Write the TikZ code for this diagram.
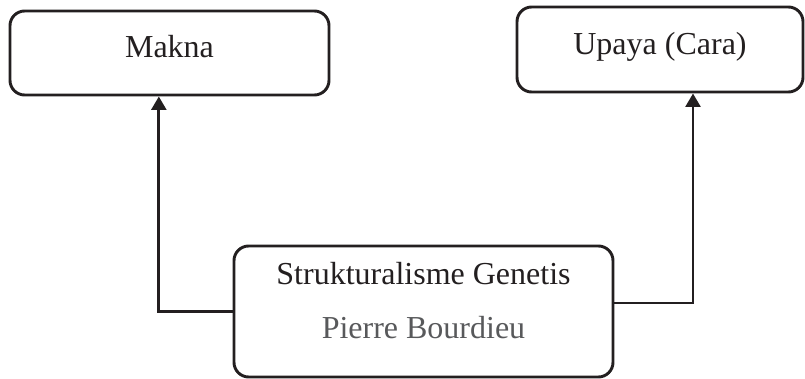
\documentclass[tikz,border=0pt]{standalone}
\usepackage{fontspec}
\setmainfont{Liberation Serif}
\usetikzlibrary{arrows.meta, positioning}
\definecolor{inkdark}{HTML}{231F20}
\definecolor{inkgrey}{HTML}{58595B}

\begin{document}
\begin{tikzpicture}[
        x=0.75pt, y=-0.75pt,
        font=\fontsize{24}{29}\selectfont,
        text=inkdark,
        >={Triangle[length=10pt,width=11pt]},
        % Styles
        box/.style={% For the rounded boxes
            rectangle,
            rounded corners=11pt,
            draw=inkdark,
            line width=2.2pt,
            inner sep=0pt,
            },
        single/.style={% One line of text in a box
            text height=16pt,
            text depth=9pt,
            },
        link/.style={% Connectors from the bottom box
            draw=inkdark,
            line width=2.2pt,
            },
        ]
    \useasboundingbox (0,0) rectangle (805,378);

    % Nodes
        % Top boxes
        \node [box, single, minimum width=239.25pt, minimum height=63pt] (makna) at (169.5,53) {Makna};
        \node [box, single, minimum width=214.5pt, minimum height=63.75pt] (upaya) at (660,49.5) {Upaya (Cara)};

        % Bottom box
        \node [box, align=center, text depth=17pt, minimum width=284.25pt, minimum height=98.25pt] (gen) at (423.5,311.5)
            {Strukturalisme Genetis\\[11.5pt]{\color{inkgrey}Pierre Bourdieu}};

    % Connectors
        \draw [link, ->] (gen.west) -| ([xshift=-8pt]makna.south);
        \draw [link, ->] ([yshift=6.4pt]gen.east) -| ([xshift=24.75pt]upaya.south);

\end{tikzpicture}
\end{document}
